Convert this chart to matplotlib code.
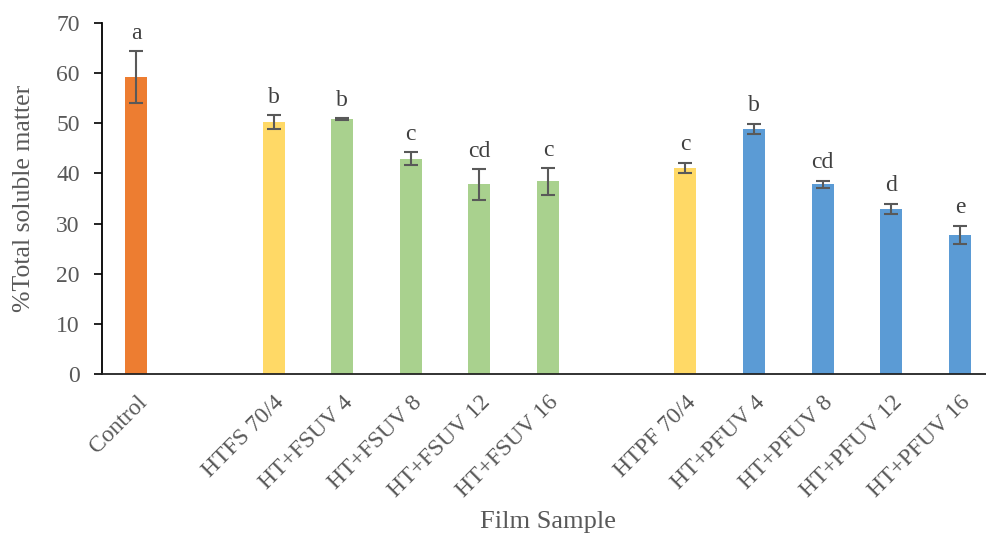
import numpy as np
from matplotlib import pyplot as plt
from matplotlib.transforms import ScaledTranslation

samples = ['Control', '', 'HTFS 70/4', 'HT+FSUV 4', 'HT+FSUV 8', 'HT+FSUV 12', 'HT+FSUV 16',
           '', 'HTPF 70/4', 'HT+PFUV 4', 'HT+PFUV 8', 'HT+PFUV 12', 'HT+PFUV 16']
values = [59.2, np.nan, 50.2, 50.8, 42.9, 37.8, 38.4, np.nan, 41.1, 48.9, 37.8, 33.0, 27.8]
errors = [5.2, np.nan, 1.4, 0.2, 1.3, 3.0, 2.6, np.nan, 1.0, 1.0, 0.75, 1.0, 1.8]
letters = ['a', '', 'b', 'b', 'c', 'cd', 'c', '', 'c', 'b', 'cd', 'd', 'e']
colors = ['#ED7D31', 'none', '#FFD966', '#A9D18E', '#A9D18E', '#A9D18E', '#A9D18E',
          'none', '#FFD966', '#5B9BD5', '#5B9BD5', '#5B9BD5', '#5B9BD5']

plt.rcParams['font.family'] = ['Liberation Serif', 'DejaVu Serif']
grey = '#595959'

fig = plt.figure(figsize=(9.87, 5.37), dpi=100)
ax = fig.add_axes([0.1033, 0.3035, 0.904, 0.6536])

x = np.arange(len(samples))
ax.bar(x, values, width=0.32, color=colors)
ax.errorbar(x, values, yerr=errors, fmt='none', ecolor=grey, elinewidth=1.5,
            capsize=5, capthick=1.5)
for xi, v, e, t in zip(x, values, errors, letters):
    if t:
        ax.annotate(t, (xi, v + e), xytext=(0, 9), textcoords='offset points',
                    ha='center', va='baseline', fontsize=17, color='#404040')

ax.set_xlim(-0.5, 12.5)
ax.set_ylim(0, 70)
ax.set_yticks(range(0, 71, 10))
ax.set_xticks(x)
ax.set_xticklabels(samples, rotation=45, ha='right', rotation_mode='anchor',
                   fontsize=17, color=grey)
shift = ScaledTranslation(5 / 100, 0, fig.dpi_scale_trans)
for lab in ax.get_xticklabels():
    lab.set_transform(lab.get_transform() + shift)
ax.tick_params(axis='x', length=0, pad=13)
ax.tick_params(axis='y', direction='out', length=6, width=1.2, labelsize=17,
               labelcolor=grey, pad=10)
for s in ['top', 'right']:
    ax.spines[s].set_visible(False)
ax.spines['left'].set_linewidth(1.3)
ax.spines['bottom'].set_linewidth(1.3)
ax.spines['bottom'].set_color('#222222')
ax.set_ylabel('%Total soluble matter', fontsize=18.5, color=grey)
ax.yaxis.set_label_coords(-0.075, 0.5)
fig.text(0.555, 0.028, 'Film Sample', ha='center', va='center', fontsize=19, color=grey)

plt.savefig('out.png', dpi=100)
